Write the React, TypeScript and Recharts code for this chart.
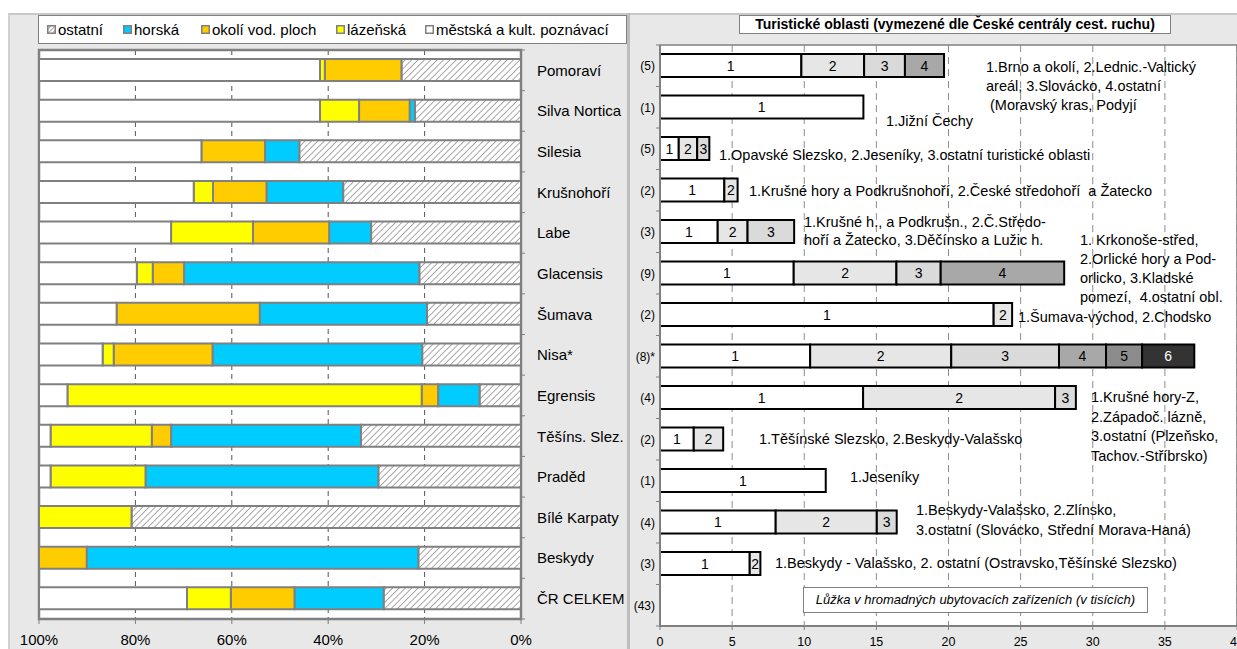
import { Bar, BarChart, CartesianGrid, LabelList, ReferenceArea, XAxis, YAxis } from "recharts";

const regions = [
  "Pomoraví", "Silva Nortica", "Silesia", "Krušnohoří", "Labe", "Glacensis", "Šumava",
  "Nisa*", "Egrensis", "Těšíns. Slez.", "Praděd", "Bílé Karpaty", "Beskydy", "ČR CELKEM",
];
const areaCounts = ["(5)", "(1)", "(5)", "(2)", "(3)", "(9)", "(2)", "(8)*", "(4)", "(2)", "(1)", "(4)", "(3)", "(43)"];

// share of beds by type of tourist area (%)
const shareOther = [24.8, 22.0, 46.0, 36.9, 31.1, 21.1, 19.5, 20.5, 8.6, 33.2, 29.6, 80.8, 21.3, 28.5];
const shareMountain = [0, 1.1, 7.1, 15.9, 8.7, 48.8, 34.7, 43.5, 8.6, 39.4, 48.3, 0, 68.8, 18.5];
const shareWater = [15.9, 10.5, 13.2, 11.1, 15.8, 6.5, 29.7, 20.5, 3.4, 4.0, 0, 0, 9.9, 13.2];
const shareSpa = [1.0, 8.1, 0, 4.0, 17.0, 3.3, 0, 2.3, 73.5, 21.0, 19.7, 19.2, 0, 9.1];
const shareCity = [58.3, 58.3, 33.7, 32.1, 27.4, 20.3, 16.1, 13.2, 5.9, 2.4, 2.4, 0, 0, 30.7];
const percentTicks = [0, 20, 40, 60, 80, 100];

// beds in thousands, per tourist area (segment 1..6)
const beds1 = [9.8, 14.1, 1.3, 4.46, 4.0, 9.27, 23.13, 10.41, 14.08, 2.34, 11.49, 8.02, 6.22, null];
const beds2 = [4.35, null, 1.28, 0.92, 2.07, 7.12, 1.28, 9.78, 13.31, 2.04, null, 7.01, 0.74, null];
const beds3 = [2.83, null, 0.84, null, 3.23, 3.07, null, 7.47, 1.44, null, null, 1.38, null, null];
const beds4 = [2.71, null, null, null, null, 8.56, null, 3.26, null, null, null, null, null, null];
const beds5 = [null, null, null, null, null, null, null, 2.5, null, null, null, null, null, null];
const beds6 = [null, null, null, null, null, null, null, 3.62, null, null, null, null, null, null];
const bedTicks = [0, 5, 10, 15, 20, 25, 30, 35, 40];

const legendLabels = ["ostatní", "horská", "okolí vod. ploch", "lázeňská", "městská a kult. poznávací"];
const rightTitle = "Turistické oblasti (vymezené dle České centrály cest. ruchu)";
const unitNote = "Lůžka v hromadných ubytovacích zařízeních (v tisících)";
const areaNotes = [
  ["1.Brno a okolí, 2.Lednic.-Valtický", "areál, 3.Slovácko, 4.ostatní", " (Moravský kras, Podyjí"],
  ["1.Jižní Čechy"],
  ["1.Opavské Slezsko, 2.Jeseníky, 3.ostatní turistické oblasti"],
  ["1.Krušné hory a Podkrušnohoří, 2.České středohoří  a Žatecko"],
  ["1.Krušné h., a Podkrušn., 2.Č.Středo-", "hoří a Žatecko, 3.Děčínsko a Lužic h."],
  ["1. Krkonoše-střed,", "2.Orlické hory a Pod-", "orlicko, 3.Kladské", "pomezí,  4.ostatní obl."],
  ["1.Šumava-východ, 2.Chodsko"],
  ["1.Krušné hory-Z,", "2.Západoč. lázně,", "3.ostatní (Plzeňsko,", "Tachov.-Stříbrsko)"],
  ["1.Těšínské Slezsko, 2.Beskydy-Valašsko"],
  ["1.Jeseníky"],
  ["1.Beskydy-Valašsko, 2.Zlínsko,", "3.ostatní (Slovácko, Střední Morava-Haná)"],
  ["1.Beskydy - Valašsko, 2. ostatní (Ostravsko,Těšínské Slezsko)"],
];

// layout only
const notePlaces = [
  { left: 986, top: 58, lh: 19 },
  { left: 886, top: 112, lh: 19 },
  { left: 719, top: 146, lh: 19 },
  { left: 749, top: 182, lh: 19 },
  { left: 804, top: 213, lh: 18 },
  { left: 1080, top: 231, lh: 19 },
  { left: 1018, top: 308, lh: 19 },
  { left: 1091, top: 388, lh: 19.5 },
  { left: 759, top: 430, lh: 19 },
  { left: 850, top: 468, lh: 19 },
  { left: 916, top: 500, lh: 20 },
  { left: 775, top: 554, lh: 19 },
];
const legendLefts = [47, 123, 201, 336, 425];
const typeColors = ["url(#hatch)", "#00ccff", "#ffcc00", "#ffff00", "#ffffff"];
const segColors = ["#ffffff", "#e6e6e6", "#dadada", "#a8a8a8", "#8c8c8c", "#333333"];

const shareRows = regions.map((region, i) => ({
  region,
  other: shareOther[i],
  mountain: shareMountain[i],
  water: shareWater[i],
  spa: shareSpa[i],
  city: shareCity[i],
}));
const bedRows = regions.map((region, i) => ({
  region,
  s1: beds1[i],
  s2: beds2[i],
  s3: beds3[i],
  s4: beds4[i],
  s5: beds5[i],
  s6: beds6[i],
}));
const bedSeries = [beds1, beds2, beds3, beds4, beds5, beds6];

const LEFT_BAND = (649 - 50 - 30) / regions.length;
const RIGHT_BAND = (649 - 45 - 23) / regions.length;
const FONT = "'Liberation Sans', Arial, sans-serif";

const RegionTick = (p: any) => {
  const last = p.index === regions.length - 1;
  return (
    <g>
      <line x1={p.x - 16} x2={p.x - 12} y1={p.y - LEFT_BAND / 2} y2={p.y - LEFT_BAND / 2} stroke="#808080" />
      {last && <line x1={p.x - 16} x2={p.x - 12} y1={p.y + LEFT_BAND / 2} y2={p.y + LEFT_BAND / 2} stroke="#808080" />}
      <text x={p.x} y={p.y} dy="0.36em" fontSize={15} fill="#000">
        {p.payload.value}
      </text>
    </g>
  );
};

const CountTick = (p: any) => {
  const last = p.index === regions.length - 1;
  return (
    <g>
      <line x1={p.x + 1} x2={p.x + 5} y1={p.y - RIGHT_BAND / 2} y2={p.y - RIGHT_BAND / 2} stroke="#808080" />
      {last && <line x1={p.x + 1} x2={p.x + 5} y1={p.y + RIGHT_BAND / 2} y2={p.y + RIGHT_BAND / 2} stroke="#808080" />}
      <text x={p.x} y={p.y} dy="0.36em" textAnchor="end" fontSize={12} fill="#000">
        {areaCounts[p.index]}
      </text>
    </g>
  );
};

const segLabel = (n: number) => (p: any) => {
  const vb = p.viewBox || p;
  if (!vb.width || vb.width <= 0) return null;
  return (
    <text
      x={vb.x + vb.width / 2}
      y={vb.y + vb.height / 2}
      dy="0.36em"
      textAnchor="middle"
      fontSize={14}
      fill={n === 6 ? "#fff" : "#000"}
    >
      {n}
    </text>
  );
};

export default function App() {
  return (
    <div style={{ position: "relative", width: 1237, height: 649, background: "#fff", fontFamily: FONT, overflow: "hidden" }}>
      <style>{"body{margin:0}"}</style>

      {/* panels */}
      <div style={{ position: "absolute", left: 8, top: 13, width: 1229, height: 636, background: "#e8e8e8", borderTop: "2px solid #c8c8c8", borderLeft: "2px solid #d0d0d0", boxSizing: "border-box" }} />
      <div style={{ position: "absolute", left: 627, top: 13, width: 3, height: 636, background: "#bdbdbd" }} />

      {/* legend */}
      <div style={{ position: "absolute", left: 38, top: 15, width: 589, height: 29, background: "#fff", border: "1px solid #808080", boxSizing: "border-box" }} />
      {legendLabels.map((lab, i) => (
        <div key={lab} style={{ position: "absolute", left: legendLefts[i], top: 20, height: 18, display: "flex", alignItems: "center", fontSize: 15, color: "#000", whiteSpace: "pre" }}>
          <svg width={9} height={9} style={{ marginRight: 2 }}>
            <defs>
              <pattern id={`lh${i}`} width="3" height="3" patternUnits="userSpaceOnUse" patternTransform="rotate(45)">
                <rect width="3" height="3" fill="#fff" />
                <line x1="0" y1="0" x2="0" y2="3" stroke="#808080" strokeWidth="1.4" />
              </pattern>
            </defs>
            <rect x={0.75} y={0.75} width={7.5} height={7.5} fill={i === 0 ? `url(#lh${i})` : typeColors[i]} stroke="#808080" strokeWidth={1.5} />
          </svg>
          {lab}
        </div>
      ))}

      {/* left chart: structure by type of area */}
      <div style={{ position: "absolute", left: 0, top: 0 }}>
        <BarChart layout="vertical" width={627} height={649} data={shareRows} margin={{ top: 50, right: 0, bottom: 0, left: 39 }} barSize={22}>
          <defs>
            <pattern id="hatch" width="4.5" height="4.5" patternUnits="userSpaceOnUse" patternTransform="rotate(45)">
              <rect width="4.5" height="4.5" fill="#fff" />
              <line x1="0" y1="0" x2="0" y2="4.5" stroke="#8c8c8c" strokeWidth="1.5" />
            </pattern>
          </defs>
          <CartesianGrid horizontal={false} stroke="#555" strokeDasharray="5 4" fill="#fff" />
          <XAxis
            type="number"
            domain={[0, 100]}
            ticks={percentTicks}
            reversed
            height={30}
            tickFormatter={(v) => `${v}%`}
            axisLine={false}
            tickSize={5}
            tickMargin={10}
            tickLine={{ stroke: "#808080" }}
            tick={{ fontSize: 15, fill: "#000" }}
            interval={0}
          />
          <YAxis
            type="category"
            dataKey="region"
            orientation="right"
            width={106}
            axisLine={false}
            tickLine={false}
            tickSize={6}
            tickMargin={10}
            tick={<RegionTick />}
            interval={0}
          />
          <Bar dataKey="other" stackId="a" fill={typeColors[0]} stroke="#808080" strokeWidth={2} isAnimationActive={false} />
          <Bar dataKey="mountain" stackId="a" fill={typeColors[1]} stroke="#808080" strokeWidth={2} isAnimationActive={false} />
          <Bar dataKey="water" stackId="a" fill={typeColors[2]} stroke="#808080" strokeWidth={2} isAnimationActive={false} />
          <Bar dataKey="spa" stackId="a" fill={typeColors[3]} stroke="#808080" strokeWidth={2} isAnimationActive={false} />
          <Bar dataKey="city" stackId="a" fill={typeColors[4]} stroke="#808080" strokeWidth={2} isAnimationActive={false} />
          <ReferenceArea x1={0} x2={100} fill="none" stroke="#808080" strokeWidth={2.5} />
        </BarChart>
      </div>

      {/* right chart: beds by tourist area */}
      <div style={{ position: "absolute", left: 630, top: 0 }}>
        <BarChart layout="vertical" width={607} height={649} data={bedRows} margin={{ top: 45, right: 0, bottom: 0, left: 0 }} barSize={23}>
          <CartesianGrid horizontal={false} stroke="#8c8c8c" strokeDasharray="7 5" fill="#fff" />
          <XAxis
            type="number"
            domain={[0, 40]}
            ticks={bedTicks}
            height={23}
            axisLine={{ stroke: "#808080", strokeWidth: 2 }}
            tickSize={4}
            tickMargin={7}
            tickLine={{ stroke: "#808080" }}
            tick={{ fontSize: 12.5, fill: "#000" }}
            interval={0}
          />
          <YAxis
            type="category"
            dataKey="region"
            width={30}
            axisLine={{ stroke: "#808080", strokeWidth: 2 }}
            tickLine={false}
            tickSize={3}
            tickMargin={2}
            tick={<CountTick />}
            interval={0}
          />
          {bedSeries.map((_, k) => (
            <Bar key={k} dataKey={`s${k + 1}`} stackId="b" fill={segColors[k]} stroke="#000" strokeWidth={2} isAnimationActive={false}>
              <LabelList dataKey={`s${k + 1}`} content={segLabel(k + 1)} />
            </Bar>
          ))}
          <ReferenceArea x1={0} x2={40} fill="none" stroke="#808080" strokeWidth={1.5} />
        </BarChart>
      </div>

      {/* right chart title and notes */}
      <div style={{ position: "absolute", left: 739, top: 15, width: 432, height: 19, background: "#fff", border: "1px solid #808080", boxSizing: "border-box", fontSize: 14, fontWeight: "bold", textAlign: "center", lineHeight: "17px", whiteSpace: "nowrap" }}>
        {rightTitle}
      </div>
      {areaNotes.map((lines, i) => (
        <div key={i} style={{ position: "absolute", left: notePlaces[i].left, top: notePlaces[i].top, fontSize: 14.5, lineHeight: `${notePlaces[i].lh}px`, whiteSpace: "pre", color: "#000" }}>
          {lines.map((l, j) => (
            <div key={j}>{l}</div>
          ))}
        </div>
      ))}
      <div style={{ position: "absolute", left: 803, top: 587, width: 345, height: 26, background: "#fff", border: "1px solid #808080", boxSizing: "border-box", fontSize: 13, fontStyle: "italic", textAlign: "center", lineHeight: "24px", whiteSpace: "nowrap" }}>
        {unitNote}
      </div>
    </div>
  );
}
